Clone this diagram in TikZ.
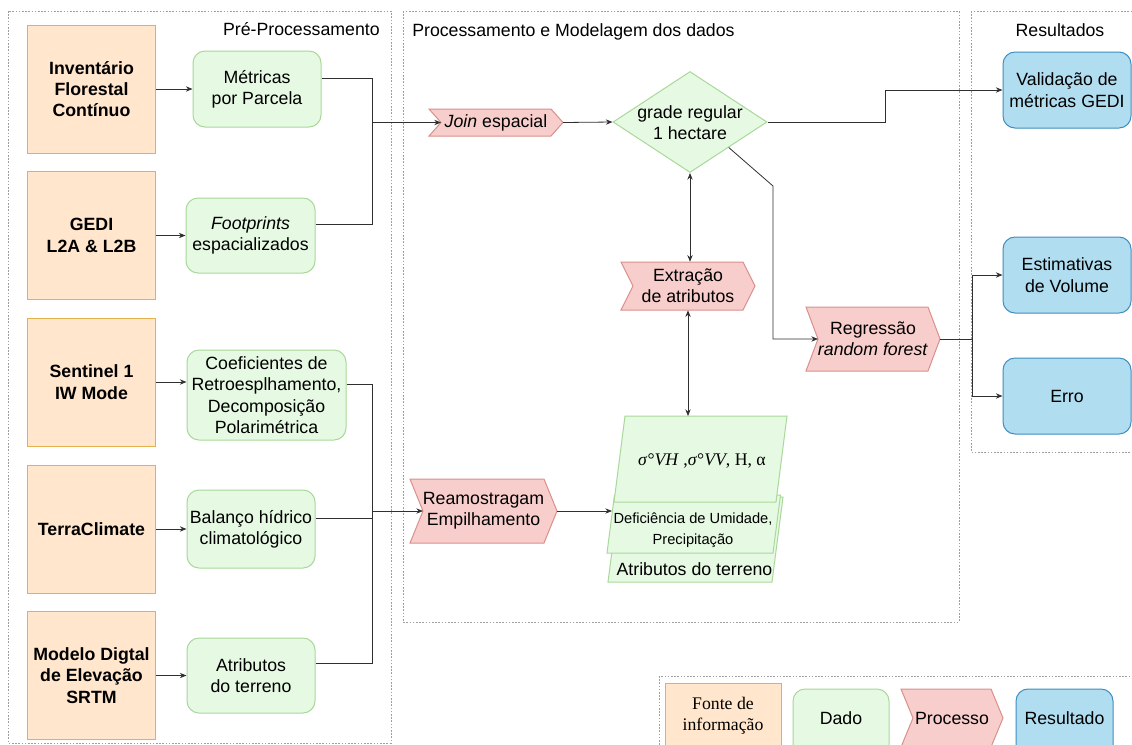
\documentclass[tikz,border=0pt]{standalone}
\usepackage{fontspec}
\setmainfont{Liberation Sans}
\newfontfamily\serifA{Liberation Serif}
\usetikzlibrary{shapes.geometric,arrows.meta}
\definecolor{srcF}{HTML}{FFE6CC}
\definecolor{srcD}{HTML}{E5B04E}
\definecolor{datF}{HTML}{E6FAE3}
\definecolor{datD}{HTML}{A9D89A}
\definecolor{prcF}{HTML}{F8CECC}
\definecolor{prcD}{HTML}{D9908C}
\definecolor{resF}{HTML}{B1DDF0}
\definecolor{resD}{HTML}{3D8FBF}
\definecolor{lineC}{HTML}{303030}
\newcommand\fsz{\fontsize{13.3}{16}\selectfont}
\newcommand\fsm{\fontsize{11}{16}\selectfont}
\tikzset{
  src/.style={draw=srcD, fill=srcF, line width=0.75pt, minimum width=96pt, minimum height=96pt, inner sep=0pt, align=center, font=\bfseries\fsz},
  dat/.style={draw=datD, fill=datF, line width=0.75pt, rounded corners=9pt, inner sep=0pt, align=center, font=\fsz},
  res/.style={draw=resD, fill=resF, line width=0.75pt, rounded corners=9pt, inner sep=0pt, align=center, font=\fsz, minimum width=96pt, minimum height=57pt},
  prc/.style={draw=prcD, fill=prcF, line width=0.75pt},
  par/.style={draw=datD, fill=datF, line width=0.75pt},
  txt/.style={inner sep=0pt, align=center, font=\fsz},
  conn/.style={line width=0.6pt, draw=lineC},
  arr/.style={conn, -{Stealth[length=5pt,width=4pt]}},
  darr/.style={conn, {Stealth[length=5pt,width=4pt]}-{Stealth[length=5pt,width=4pt]}},
  panel/.style={draw=gray!75, line width=0.6pt, dash pattern=on 1.2pt off 1.2pt},
}
% name, cx, cy, half width, half height, depth, text
\newcommand\mkchev[7]{%
  \filldraw[prc] (#2-#4,#3-#5) -- (#2+#4-#6,#3-#5) -- (#2+#4,#3) -- (#2+#4-#6,#3+#5) -- (#2-#4,#3+#5) -- (#2-#4+#6,#3) -- cycle;
  \node[txt, minimum width={1.5pt*#4}, minimum height={1.5pt*#5}] (#1) at (#2,#3) {#7};
  \coordinate (#1-in) at (#2-#4+#6,#3);
  \coordinate (#1-out) at (#2+#4,#3);}
\begin{document}
\begin{tikzpicture}[x=0.75pt,y=-0.75pt]
\useasboundingbox (0,0) rectangle (1132,744);
\fill[white] (0,0) rectangle (1132,744);
% panels
\draw[panel] (8,11) rectangle (391,743);
\draw[panel] (403,11) rectangle (959,622);
\draw[panel] (971,11) rectangle (1145,452);
\draw[panel] (659,676) rectangle (1145,760);
\node[txt, anchor=east] (hpre) at (380,29) {Pré-Processamento};
\node[txt, anchor=west] (hproc) at (412,32) {Processamento e Modelagem dos dados};
\node[txt] (hres) at (1060,30) {Resultados};
% sources
\node[src] (inv) at (91.5,89) {Inventário\\Florestal\\Contínuo};
\node[src] (gedi) at (91.5,235.5) {GEDI\\L2A \& L2B};
\node[src] (sent) at (91.5,382) {Sentinel 1\\IW Mode};
\node[src] (terra) at (91.5,529) {TerraClimate};
\node[src] (srtm) at (91.5,675.5) {Modelo Digtal\\de Elevação\\SRTM};
% data
\node[dat, minimum width=96pt, minimum height=57pt] (metr) at (257,89) {Métricas\\por Parcela};
\node[dat, minimum width=96.75pt, minimum height=56.25pt] (foot) at (250.5,235.5) {\textit{Footprints}\\espacializados};
\node[dat, minimum width=119.25pt, minimum height=67.5pt] (coef) at (266.5,395) {Coeficientes de\\Retroesplhamento,\\Decomposição\\Polarimétrica};
\node[dat, minimum width=96pt, minimum height=58.5pt] (bal) at (251,529) {Balanço hídrico\\climatológico};
\node[dat, minimum width=96pt, minimum height=56.25pt] (atr) at (251,675.5) {Atributos\\do terreno};
% results
\node[res] (valid) at (1067,90) {Validação de\\métricas GEDI};
\node[res] (estim) at (1067,275) {Estimativas\\de Volume};
\node[res] (erro) at (1067,396) {Erro};
% processes
\mkchev{join}{496}{122.5}{67}{13.5}{12}{\textit{Join} espacial}
\mkchev{extr}{688}{286}{67}{24}{12}{Extração\\de atributos}
\mkchev{regr}{873}{339}{67}{32}{12}{Regressão\\\textit{random forest}}
\mkchev{ream}{483.5}{511}{73.5}{32}{13}{Reamostragam\\Empilhamento}
% diamond
\node[diamond, draw=datD, fill=datF, line width=0.75pt, minimum width=115.5pt, minimum height=75.75pt, inner sep=0pt] (grade) at (690,122) {};
\node[txt] (gradet) at (690,122.5) {grade regular\\1 hectare};
% stacked parallelograms
\filldraw[par] (608,582) -- (772,582) -- (783,497) -- (619,497) -- cycle;
\filldraw[par] (607,553) -- (773,553) -- (780.5,495) -- (614.5,495) -- cycle;
\filldraw[par] (614,502) -- (776,502) -- (787,416) -- (625,416) -- cycle;
\node[txt, font=\serifA\fsz] (psig) at (702,461) {\textit{σ}°\textit{VH} ,\textit{σ}°\textit{VV}, H, α};
\node[txt, font=\fsm] (pdef) at (693,530) {Deficiência de Umidade,\\Precipitação};
\node[txt] (pter) at (694.5,569) {Atributos do terreno};
\coordinate (p1top) at (688,416);
\coordinate (p2left) at (612,511);
% helper coordinates
\coordinate (hA) at (0,78);
\coordinate (hB) at (0,224);
\coordinate (hC) at (0,384);
\coordinate (hD) at (0,518);
\coordinate (hE) at (0,663);
\coordinate (jA) at (372,122.5);
\coordinate (jB) at (372,511);
\coordinate (jV) at (885,122);
\coordinate (jR) at (773,186);
\coordinate (jS) at (972,339);
% connectors
\draw[arr] (inv.east) -- (inv.east -| metr.west);
\draw[arr] (gedi.east) -- (gedi.east -| foot.west);
\draw[arr] (sent.east) -- (sent.east -| coef.west);
\draw[arr] (terra.east) -- (terra.east -| bal.west);
\draw[arr] (srtm.east) -- (srtm.east -| atr.west);
\draw[conn] (metr.east |- hA) -| (jA);
\draw[conn] (foot.east |- hB) -| (jA);
\draw[arr] (jA) -- (join-in);
\draw[conn] (coef.east |- hC) -| (jB);
\draw[conn] (bal.east |- hD) -| (jB);
\draw[conn] (atr.east |- hE) -| (jB);
\draw[arr] (jB) -- (ream-in);
\draw[arr] (join-out) -- (grade.west);
\draw[arr] (grade.east) -- (jV) |- (valid.west);
\draw[darr] (grade.south) -- (grade.south |- extr.north);
\draw[darr] (extr.south) -- (p1top);
\draw[arr] (grade.south east) -- (jR) |- (regr-in);
\draw[conn] (regr-out) -- (jS);
\draw[arr] (jS) |- (estim.west);
\draw[arr] (jS) |- (erro.west);
\draw[arr] (ream-out) -- (p2left);
% legend
\node[src, minimum width=87pt, minimum height=57.75pt] (lfonte) at (723,721.5) {};
\node[txt, font=\serifA\fsz] (lfontet) at (723,716) {Fonte de\\informação};
\node[dat, minimum width=72pt, minimum height=53.25pt] (ldado) at (841,724.5) {};
\node[txt] (ldadot) at (841,718) {Dado};
\mkchev{lproc}{952}{718}{51}{29}{12}{Processo}
\node[res, minimum width=72.75pt, minimum height=53.25pt] (lres) at (1064.5,724.5) {};
\node[txt] (lrest) at (1064.5,718) {Resultado};
\end{tikzpicture}
\end{document}
